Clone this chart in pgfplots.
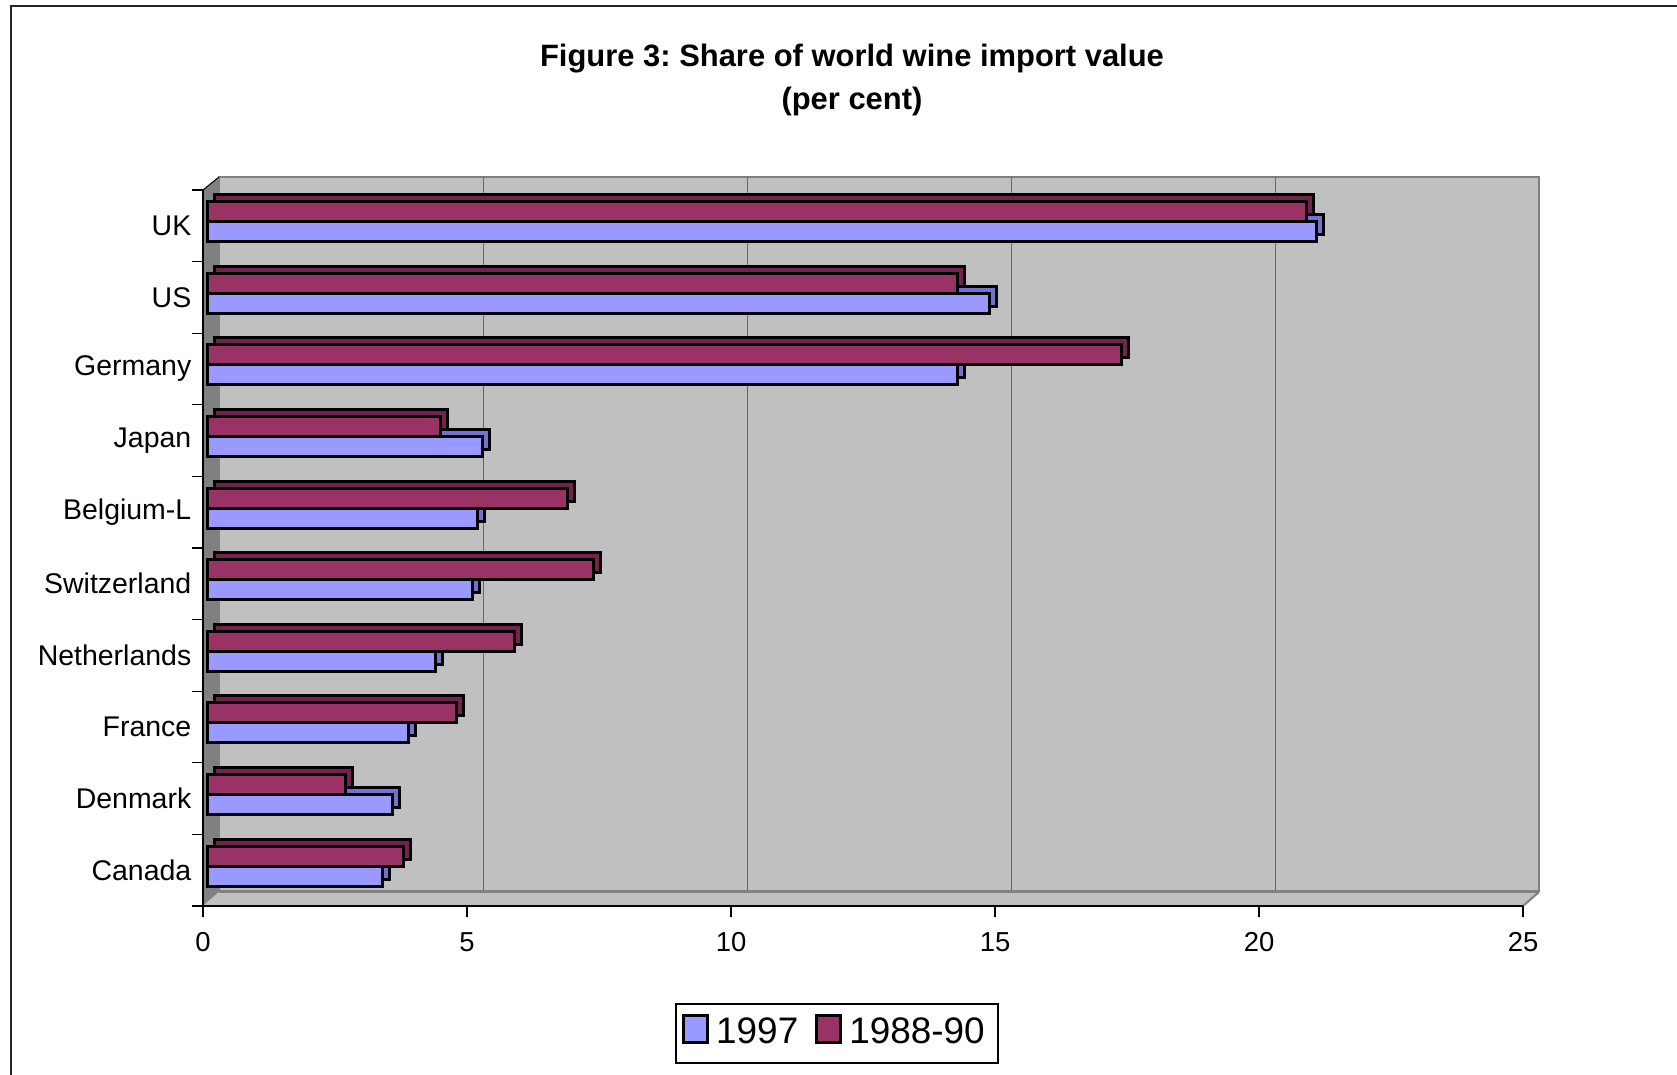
\documentclass[border=0pt]{standalone}
\usepackage{pgfplots}
\usepackage{pgfplotstable}
\pgfplotsset{compat=1.18}
\usepackage{fontspec}
\setmainfont{Liberation Sans}
\frenchspacing
\definecolor{c97}{RGB}{153,153,255}
\definecolor{c88}{RGB}{153,51,102}
\definecolor{c97d}{RGB}{115,115,205}
\definecolor{c88d}{RGB}{115,36,78}
\definecolor{wall}{RGB}{192,192,192}
\definecolor{wallside}{RGB}{128,128,128}

\pgfplotstableread{
idx name y97 y88
0 Canada 3.3 3.7
1 Denmark 3.5 2.6
2 France 3.8 4.7
3 Netherlands 4.3 5.8
4 Switzerland 5.0 7.3
5 Belgium-L 5.1 6.8
6 Japan 5.2 4.4
7 Germany 14.2 17.3
8 US 14.8 14.2
9 UK 21.0 20.8
}\data

\begin{document}
\begin{tikzpicture}
\useasboundingbox (-20.3mm,-16.9mm) rectangle (147.4mm,90.6mm);
\fill[white] (-20.3mm,-16.9mm) rectangle (147.4mm,90.6mm);
\draw[line width=0.2mm, black!85] (-19.2mm,-30mm) |- (160mm,90.0mm);
% 3D walls
\fill[wall] (1.6mm,1.4mm) rectangle (133.6mm,72.9mm);
\draw[wallside, line width=0.25mm] (1.6mm,1.4mm) -- (1.6mm,72.9mm) -- (133.6mm,72.9mm) -- (133.6mm,1.4mm);
\foreach \g in {26.4,52.8,79.2,105.6} {
  \draw[black!60, line width=0.1mm] (\g mm+1.6mm,1.4mm) -- (\g mm+1.6mm,72.9mm);
  \draw[black!60, line width=0.1mm] (\g mm,0mm) -- (\g mm+1.6mm,1.4mm);
}
\fill[wallside] (0mm,0mm) -- (1.6mm,1.4mm) -- (1.6mm,72.9mm) -- (0mm,71.6mm) -- cycle;
\fill[wall] (0mm,0mm) -- (1.6mm,1.4mm) -- (133.6mm,1.4mm) -- (132mm,0mm) -- cycle;
\draw[wallside, line width=0.3mm] (1.6mm,1.4mm) -- (133.6mm,1.4mm);
\draw[wallside, line width=0.2mm] (132mm,0mm) -- (133.6mm,1.4mm);
\draw[black, line width=0.1mm] (0mm,71.6mm) -- (1.6mm,72.9mm);
\begin{axis}[
  scale only axis, width=132mm, height=71.6mm,
  at={(0mm,0mm)}, anchor=south west,
  xmin=0, xmax=25, ymin=-0.5, ymax=9.5,
  axis lines*=left,
  axis line style={black, line width=0.15mm},
  xtick={0,5,...,25},
  ytick={0,...,9},
  yticklabels={Canada,Denmark,France,Netherlands,Switzerland,Belgium-L,Japan,Germany,US,UK},
  minor ytick={-0.5,0.5,...,9.5},
  tick align=outside,
  major tick length=1.1mm, minor tick length=1.1mm,
  major y tick style={draw=none},
  tick style={black, line width=0.12mm},
  xticklabel style={font=\fontsize{7.8}{8.5}\selectfont, anchor=north, inner sep=0pt, yshift=-1.5mm},
  yticklabel style={font=\fontsize{8.1}{9}\selectfont, anchor=east, inner sep=0pt},
  /pgf/number format/assume math mode=true,
  clip=false,
  legend columns=2,
  legend image code/.code={\draw[#1,draw=black,line width=0.3mm] (0mm,-1.35mm) rectangle (2.4mm,1.35mm);},
  legend style={at={(0.4803,-0.178)}, anchor=center, draw=black, line width=0.15mm,
    font=\fontsize{10.5}{12}\selectfont, inner xsep=0.6mm,
    /tikz/column 2/.style={column sep=1.0mm}},
]
\addplot[xbar, bar width=2mm, bar shift=-1mm, fill=c97d, draw=black, line width=0.3mm, xshift=1.2mm, yshift=1.1mm, forget plot] table[x=y97,y=idx]{\data};
\addplot[xbar, bar width=2mm, bar shift=-1mm, fill=c97, draw=black, line width=0.3mm, xshift=0.5mm, yshift=0.4mm] table[x=y97,y=idx]{\data};
\addplot[xbar, bar width=2mm, bar shift=1mm, fill=c88d, draw=black, line width=0.3mm, xshift=1.2mm, yshift=1.1mm, forget plot] table[x=y88,y=idx]{\data};
\addplot[xbar, bar width=2mm, bar shift=1mm, fill=c88, draw=black, line width=0.3mm, xshift=0.5mm, yshift=0.4mm] table[x=y88,y=idx]{\data};
\legend{1997,1988-90}
\end{axis}
\node[anchor=base, font=\bfseries\fontsize{8.8}{10}\selectfont] at (64.9mm,83.9mm) {Figure 3: Share of world wine import value};
\node[anchor=base, font=\bfseries\fontsize{8.8}{10}\selectfont] at (64.9mm,79.6mm) {(per cent)};
\end{tikzpicture}
\end{document}
